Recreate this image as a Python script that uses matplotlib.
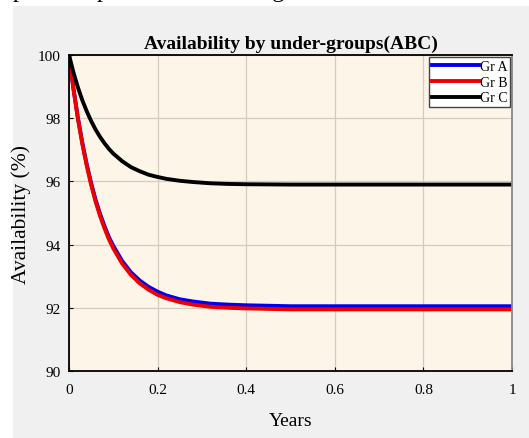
import matplotlib
matplotlib.use("Agg")
import matplotlib.pyplot as plt
from matplotlib.patches import Rectangle

years = [0, 0.01, 0.02, 0.03, 0.04, 0.05, 0.06, 0.07, 0.08, 0.09, 0.10, 0.12, 0.14,
         0.16, 0.18, 0.20, 0.22, 0.25, 0.28, 0.32, 0.36, 0.40, 0.50, 0.60, 0.70,
         0.80, 0.90, 1.00]
gr_a = [100, 98.94, 98.02, 97.23, 96.54, 95.95, 95.42, 94.98, 94.59, 94.24, 93.96,
        93.48, 93.12, 92.86, 92.66, 92.51, 92.39, 92.27, 92.20, 92.13, 92.10, 92.08,
        92.05, 92.05, 92.05, 92.05, 92.05, 92.05]
gr_b = [100, 98.93, 98.00, 97.19, 96.50, 95.89, 95.36, 94.91, 94.52, 94.17, 93.88,
        93.40, 93.04, 92.77, 92.57, 92.41, 92.30, 92.18, 92.10, 92.03, 92.00, 91.98,
        91.95, 91.95, 91.95, 91.95, 91.95, 91.95]
gr_c = [100, 99.45, 98.98, 98.57, 98.22, 97.91, 97.64, 97.41, 97.21, 97.03, 96.88,
        96.64, 96.45, 96.32, 96.21, 96.14, 96.08, 96.02, 95.98, 95.94, 95.92, 95.91,
        95.90, 95.90, 95.90, 95.90, 95.90, 95.90]
labels = ["Gr A", "Gr B", "Gr C"]
xticks = [0, 0.2, 0.4, 0.6, 0.8, 1]
xticklabels = ["0", "0.2", "0.4", "0.6", "0.8", "1"]
yticks = [90, 92, 94, 96, 98, 100]

plt.rcParams['font.family'] = ['Liberation Serif', 'DejaVu Serif']

W, H = 529, 439
fig = plt.figure(figsize=(W / 100, H / 100), dpi=100, facecolor='white')
fig.patches.append(Rectangle((13 / W, 0), 1, 1 - 7 / H, transform=fig.transFigure,
                             facecolor='#f0f0f0', edgecolor='none', zorder=-10))
fig.text(13 / W, 1 + 3 / H, "pare the presented in the figure below.", fontsize=17.5,
         va='baseline', ha='left', color='black')

ax = fig.add_axes([69 / W, 1 - 372 / H, (512 - 69) / W, (372 - 56) / H])
ax.set_facecolor('#fdf5e8')
ax.plot(years, gr_a, color='#0000ee', lw=2.8, label=labels[0])
ax.plot(years, gr_b, color='#ee0000', lw=2.8, label=labels[1])
ax.plot(years, gr_c, color='black', lw=2.8, label=labels[2])

ax.set_xlim(0, 1)
ax.set_ylim(90, 100)
ax.set_xticks(xticks)
ax.set_xticklabels(xticklabels)
ax.set_yticks(yticks)
ax.grid(True, color='#d6ccbb', lw=0.9)
ax.set_axisbelow(True)
ax.tick_params(direction='in', length=3, labelsize=11, colors='black')
ax.tick_params(axis='x', pad=9)
ax.tick_params(axis='y', pad=6)
for s in ax.spines.values():
    s.set_linewidth(1.3)
    s.set_color('black')
ax.spines['right'].set_color('#888888')

ax.set_title("Availability by under-groups(ABC)", fontsize=14, fontweight='bold', pad=5)
ax.set_xlabel("Years", fontsize=14, labelpad=11)
ax.set_ylabel("Availability (%)", fontsize=15.5, labelpad=5)

leg = ax.legend(loc='upper right', fontsize=10, handlelength=3.4, handletextpad=0.05,
                borderpad=0.2, labelspacing=0.2, borderaxespad=0.15, fancybox=False,
                framealpha=1, facecolor='white', edgecolor='#444444')
leg.get_frame().set_linewidth(1.0)

fig.savefig("out.png", dpi=100, facecolor=fig.get_facecolor())
